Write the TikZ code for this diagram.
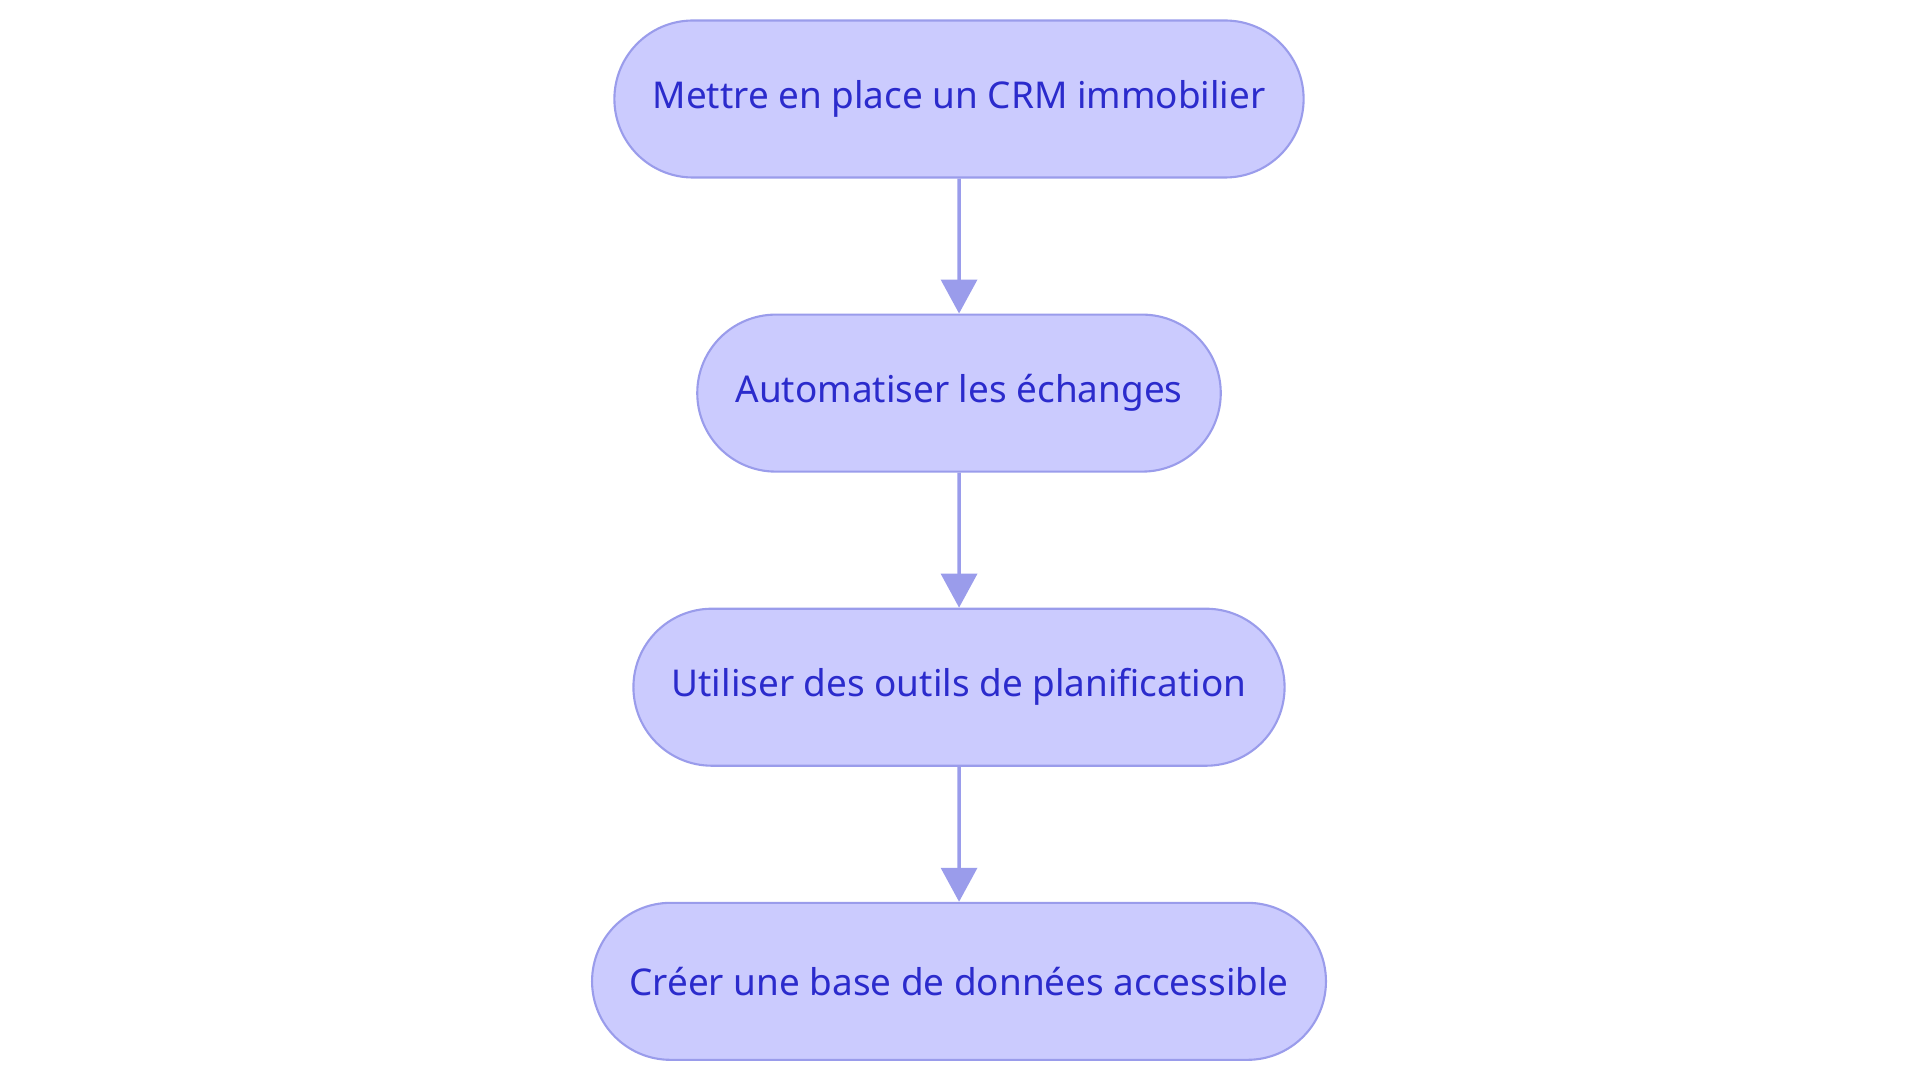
\documentclass[tikz,border=0pt]{standalone}
\usepackage{fontspec}
\setmainfont{Noto Sans}
\usetikzlibrary{positioning,arrows.meta,shapes.misc}
\definecolor{boxfill}{HTML}{CBCBFE}
\definecolor{boxline}{HTML}{9A9CEB}
\definecolor{boxtext}{HTML}{2B2BCC}
\tikzset{
  phase/.style={rounded rectangle, fill=boxfill, draw=boxline, line width=0.6pt,
    text=boxtext, minimum height=1.57cm, inner xsep=0.36cm, font=\fontsize{10.5}{12}\selectfont},
  link/.style={draw=boxline, line width=1pt, -{Triangle[length=0.34cm,width=0.36cm]}}
}
\begin{document}
\begin{tikzpicture}
    \useasboundingbox (0,0) rectangle (19.2,-10.83);
    \node [phase] (crm) at (9.59,-0.99) {Mettre en place un CRM immobilier};
    \node [phase, below=1.35cm of crm] (auto) {Automatiser les échanges};
    \node [phase, below=1.35cm of auto] (outils) {Utiliser des outils de planification};
    \node [phase, below=1.35cm of outils] (base) {Créer une base de données accessible};
    \draw [link] (crm) -- (auto) ;
    \draw [link] (auto) -- (outils) ;
    \draw [link] (outils) -- (base) ;
  \end{tikzpicture}
\end{document}
